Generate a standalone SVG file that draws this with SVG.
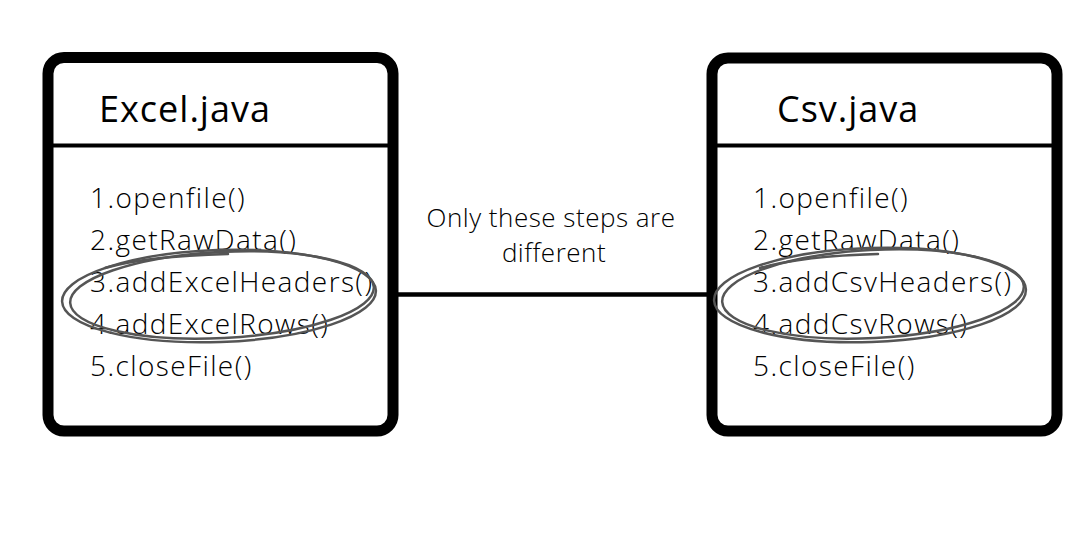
<svg xmlns="http://www.w3.org/2000/svg" width="1076" height="542" viewBox="0 0 1076 542">
<style>
.box{fill:#fff;stroke:#000;stroke-width:11}
.div{stroke:#000;stroke-width:4}
.title{font-family:"Open Sans","Liberation Sans",sans-serif;font-weight:400;font-size:36px;letter-spacing:1px;fill:#000}
.item{font-family:"Open Sans","Liberation Sans",sans-serif;font-weight:300;font-size:28px;letter-spacing:1.4px;fill:#000}
.note{font-family:"Open Sans","Liberation Sans",sans-serif;font-weight:300;font-size:26px;letter-spacing:0.5px;fill:#000}
.circ{fill:none;stroke:#555;stroke-width:2.5;stroke-linecap:round}
.conn{stroke:#000;stroke-width:4.5}
</style>
<rect width="1076" height="542" fill="#fff"/>
<g id="connectors">
<line class="conn" x1="397" y1="294.5" x2="708" y2="294.5"/>
</g>
<g id="excel">
<rect class="box" x="48" y="57.5" width="345" height="373.5" rx="16"/>
<line class="div" x1="43" y1="145.5" x2="388" y2="145.5"/>
<text class="title" x="99" y="122">Excel.java</text>
<text class="item" x="90" y="208">1.openfile()</text>
<text class="item" x="90" y="250">2.getRawData()</text>
<text class="item" x="90" y="292">3.addExcelHeaders()</text>
<text class="item" x="90" y="334">4.addExcelRows()</text>
<text class="item" x="90" y="376">5.closeFile()</text>
<ellipse class="circ" cx="219" cy="296" rx="157" ry="46" transform="rotate(-2 219 296)"/>
<ellipse class="circ" cx="222" cy="295" rx="152" ry="43" transform="rotate(-3 222 295)"/>
<path class="circ" d="M105 268 C140 258 190 255 228 254"/>
</g>
<g id="csv">
<rect class="box" x="712" y="58" width="345" height="373" rx="16"/>
<line class="div" x1="712" y1="145.5" x2="1052" y2="145.5"/>
<text class="title" x="777" y="122">Csv.java</text>
<text class="item" x="753" y="208">1.openfile()</text>
<text class="item" x="753" y="250">2.getRawData()</text>
<text class="item" x="753" y="292">3.addCsvHeaders()</text>
<text class="item" x="753" y="334">4.addCsvRows()</text>
<text class="item" x="753" y="376">5.closeFile()</text>
<ellipse class="circ" cx="870" cy="295" rx="156" ry="47" transform="rotate(-2 870 295)"/>
<ellipse class="circ" cx="873" cy="294" rx="151" ry="44" transform="rotate(-3 873 294)"/>
<path class="circ" d="M760 268 C795 258 840 255 878 254"/>
</g>
<g id="note">
<text class="note" x="551" y="227" text-anchor="middle">Only these steps are</text>
<text class="note" x="554" y="262" text-anchor="middle">different</text>
</g>
</svg>
